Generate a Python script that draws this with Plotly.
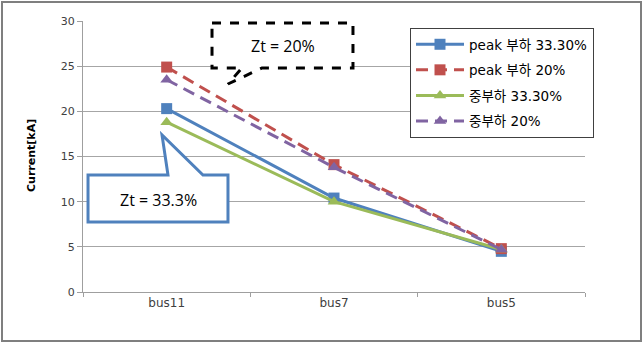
import plotly.graph_objects as go

categories = ["bus11", "bus7", "bus5"]
peak_333 = [20.3, 10.4, 4.5]
peak_20 = [24.9, 14.1, 4.8]
mid_333 = [18.8, 10.0, 4.7]
mid_20 = [23.5, 13.8, 4.7]
series_names = ["peak 부하 33.30%", "peak 부하 20%", "중부하 33.30%", "중부하 20%"]
y_ticks = [0, 5, 10, 15, 20, 25, 30]

W, H = 644, 343
L, R, T, B = 83, 585, 21, 292


def px(x):
    return (x - L) / (R - L)


def py(y):
    return (B - y) / (B - T)


fig = go.Figure()
styles = [
    ("#4F81BD", "solid", "square", peak_333),
    ("#C0504D", "12px,7px", "square", peak_20),
    ("#9BBB59", "solid", "triangle-up", mid_333),
    ("#8064A2", "12px,7px", "triangle-up", mid_20),
]
for i, (name, (col, dash, sym, vals)) in enumerate(zip(series_names, styles)):
    fig.add_trace(go.Scatter(
        x=categories, y=vals, name=name, mode="lines+markers",
        legendgroup=f"g{i}",
        line=dict(color=col, width=3, dash=dash),
        marker=dict(color=col, symbol=sym, size=11),
    ))

shapes = []
# outer frame
shapes.append(dict(type="rect", xref="paper", yref="paper",
                   x0=px(2), x1=px(641), y0=py(341), y1=py(2),
                   line=dict(color="#7f7f7f", width=2), layer="below"))


def path(points):
    s = "M " + " L ".join(f"{px(x):.4f},{py(y):.4f}" for x, y in points) + " Z"
    return s


# Zt = 20% dashed callout
p20 = [(212, 23), (353, 23), (353, 68), (262, 68), (228, 84), (242, 68), (212, 68)]
shapes.append(dict(type="path", xref="paper", yref="paper", path=path(p20),
                   line=dict(color="black", width=3, dash="dash"),
                   fillcolor="white", layer="above"))
# Zt = 33.3% callout
p33 = [(88, 175), (168, 175), (162, 135), (203, 175), (228, 175), (228, 222), (88, 222)]
shapes.append(dict(type="path", xref="paper", yref="paper", path=path(p33),
                   line=dict(color="#4F81BD", width=3),
                   fillcolor="white", layer="above"))

annotations = [
    dict(text="Zt = 20%", x=px(283), y=py(46), xref="paper", yref="paper",
         xanchor="center", yanchor="middle",
         showarrow=False, font=dict(family="Open Sans", size=16, color="black")),
    dict(text="Zt = 33.3%", x=px(158), y=py(200), xref="paper", yref="paper",
         xanchor="center", yanchor="middle",
         showarrow=False, font=dict(family="Open Sans", size=16, color="black")),
    dict(text="<b>Current[kA]</b>", x=px(31), y=py(156), xref="paper", yref="paper",
         xanchor="center", yanchor="middle",
         showarrow=False, textangle=-90,
         font=dict(family="DejaVu Sans", size=11, color="black")),
]

fig.update_layout(
    width=W, height=H,
    margin=dict(l=L, r=W - R, t=T, b=H - B),
    paper_bgcolor="white", plot_bgcolor="white",
    shapes=shapes, annotations=annotations,
    font=dict(family="DejaVu Sans", size=11, color="#404040"),
    legend=dict(x=px(410), y=py(28), xanchor="left", yanchor="top",
                bordercolor="#404040", borderwidth=1, bgcolor="white",
                font=dict(family="DejaVu Sans, Noto Sans CJK KR", size=13.5, color="black"),
                tracegroupgap=5, itemwidth=48),
    showlegend=True,
)
fig.update_xaxes(range=[-0.5, 2.5], showline=True, linecolor="#9f9f9f", linewidth=1,
                 ticks="outside", ticklen=4, tickcolor="#9f9f9f",
                 tickson="boundaries", showgrid=False,
                 tickfont=dict(family="DejaVu Sans", size=12, color="#404040"))
fig.update_yaxes(range=[0, 30], tickvals=y_ticks, showline=True, linecolor="#9f9f9f",
                 ticks="outside", ticklen=5, tickcolor="#9f9f9f",
                 showgrid=True, gridcolor="#a6a6a6", gridwidth=1, zeroline=False,
                 tickfont=dict(family="DejaVu Sans", size=11, color="#404040"))

fig.write_html("out.html", config={"displayModeBar": False},
               post_script="document.body.style.margin='0';document.body.style.overflow='hidden';")
